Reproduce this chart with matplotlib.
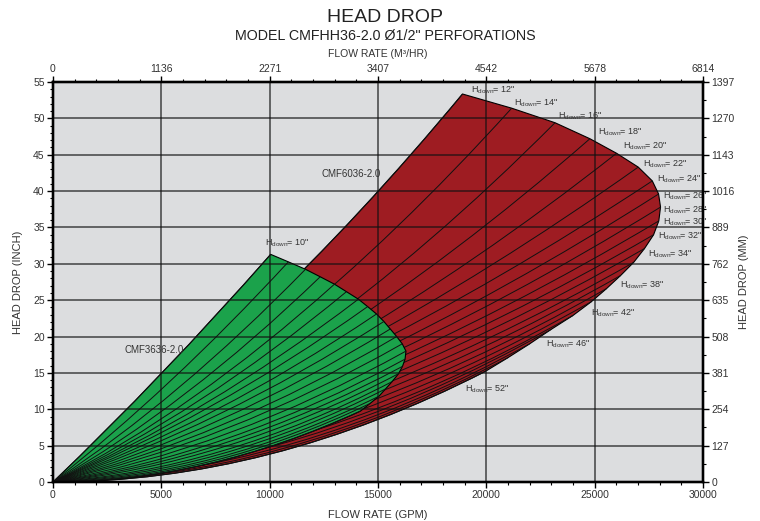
import matplotlib
matplotlib.use('Agg')
import matplotlib.pyplot as plt
from matplotlib.path import Path
from matplotlib.patches import PathPatch
from matplotlib.ticker import MultipleLocator

plt.rcParams['font.family'] = ['Liberation Sans Narrow', 'Liberation Sans', 'DejaVu Sans']
plt.rcParams['mathtext.default'] = 'regular'

# ---- data ----
# CMF6036-2.0 (red): one curve per downcomer height, from the origin to the max-flow edge
red_h = [12, 14, 16, 18, 20, 22, 24, 26, 28, 30, 32, 34, 36, 38, 40, 42, 44, 46, 48, 50, 52]
red_end_gpm = [18900, 21170, 23170, 24780, 26010, 27010, 27660, 27950, 28040, 27960, 27720,
               27300, 26800, 26200, 25550, 24850, 24000, 23000, 22000, 21000, 19950]
red_end_in = [53.35, 51.4, 49.4, 47.2, 45.2, 43.3, 41.4, 39.6, 37.8, 35.9, 34.0,
              32.1, 30.2, 28.4, 26.6, 24.8, 22.9, 21.0, 19.0, 17.1, 15.2]
# head drop at half of the end flow
red_mid_in = [23.03, 21.08, 19.69, 19.24, 18.64, 18.16, 17.42, 16.43, 15.46, 14.47, 13.47,
              12.37, 11.24, 10.15, 9.06, 8.05, 7.01, 6.09, 5.23, 4.49, 3.80]

# CMF3636-2.0 (green)
green_h = [10, 12, 14, 16, 18, 20, 22, 24, 26, 28, 30, 32, 34, 36, 38, 40, 42, 44, 46, 48, 50, 52]
green_end_gpm = [10046, 10863, 11653, 12332, 12991, 13543, 14094, 14522, 14931, 15272, 15566,
                 15862, 16120, 16290, 16250, 16130, 15950, 15650, 15348, 15045, 14634, 14190]
green_end_in = [31.3, 30.27, 29.25, 28.22, 27.2, 26.17, 25.14, 24.12, 23.1, 22.07, 21.04,
                20.0, 19.0, 18.0, 16.9, 15.9, 14.9, 13.8, 12.8, 11.8, 10.8, 9.75]
green_mid_in = [14.97, 13.92, 13.02, 12.28, 11.70, 11.25, 10.81, 10.37, 9.82, 9.27, 8.63,
                8.0, 7.41, 6.75, 6.08, 5.49, 4.92, 4.28, 3.78, 3.30, 2.86, 2.44]

red_labeled = [12, 14, 16, 18, 20, 22, 24, 26, 28, 30, 32, 34, 38, 42, 46, 52]
green_labeled = [10]

gpm_ticks = [0, 5000, 10000, 15000, 20000, 25000, 30000]
m3hr_labels = ['0', '1136', '2271', '3407', '4542', '5678', '6814']
inch_ticks = [0, 5, 10, 15, 20, 25, 30, 35, 40, 45, 50, 55]
mm_labels = ['0', '127', '254', '381', '508', '635', '762', '889', '1016', '1143', '1270', '1397']

RED = '#9e1c22'
GREEN = '#1ba24b'
BG = '#dcdddf'


def curve(xe, ye, ym):
    # quadratic curve from the origin through (xe/2, ym) to (xe, ye)
    return Path([(0, 0), (xe / 2, 2 * ym - ye / 2), (xe, ye)],
                [Path.MOVETO, Path.CURVE3, Path.CURVE3])


def region(xe, ye, ym):
    verts = [(0, 0), (xe[0] / 2, 2 * ym[0] - ye[0] / 2), (xe[0], ye[0])]
    codes = [Path.MOVETO, Path.CURVE3, Path.CURVE3]
    for x, y in zip(xe[1:], ye[1:]):
        verts.append((x, y))
        codes.append(Path.LINETO)
    verts += [(xe[-1] / 2, 2 * ym[-1] - ye[-1] / 2), (0, 0), (0, 0)]
    codes += [Path.CURVE3, Path.CURVE3, Path.CLOSEPOLY]
    return Path(verts, codes)


fig = plt.figure(figsize=(7.6, 5.21), dpi=100)
ax = fig.add_axes([53 / 760, 39 / 521, 650 / 760, 400 / 521])
ax.set_facecolor(BG)

ax.add_patch(PathPatch(region(red_end_gpm, red_end_in, red_mid_in), fc=RED, ec='k', lw=0.8, zorder=1))
for xe, ye, ym in zip(red_end_gpm, red_end_in, red_mid_in):
    ax.add_patch(PathPatch(curve(xe, ye, ym), fc='none', ec='#111111', lw=0.7, zorder=1.1))

ax.add_patch(PathPatch(region(green_end_gpm, green_end_in, green_mid_in), fc=GREEN, ec='k', lw=0.8, zorder=1.5))
for xe, ye, ym in zip(green_end_gpm, green_end_in, green_mid_in):
    ax.add_patch(PathPatch(curve(xe, ye, ym), fc='none', ec='#111111', lw=0.7, zorder=1.6))

# H_down labels (left x, centre y of the text)
label_pos = {12: (19278, 53.9), 14: (21277, 52.1), 16: (23308, 50.26), 18: (25154, 48.03),
             20: (26294, 46.13), 22: (27231, 43.73), 24: (27877, 41.66), 26: (28140, 39.33),
             28: (28140, 37.36), 30: (28140, 35.72), 32: (27937, 33.73), 34: (27475, 31.35),
             38: (26169, 27.02), 42: (24817, 23.24), 46: (22754, 18.88), 52: (19015, 12.79),
             10: (9785, 32.77)}
for h in red_labeled + green_labeled:
    x, y = label_pos[h]
    ax.text(x, y, 'H$_{down}$= %d"' % h, fontsize=6.5, color='#333333',
            ha='left', va='center', zorder=4)

ax.text(3277, 18.1, 'CMF3636-2.0', fontsize=7, color='#333333', ha='left', va='center', zorder=4)
ax.text(12400, 42.3, 'CMF6036-2.0', fontsize=7, color='#333333', ha='left', va='center', zorder=4)

ax.set_xlim(0, 30000)
ax.set_ylim(0, 55)
ax.set_xticks(gpm_ticks)
ax.set_yticks(inch_ticks)
ax.xaxis.set_minor_locator(MultipleLocator(1000))
ax.yaxis.set_minor_locator(MultipleLocator(1))
ax.grid(True, which='major', color='#111111', alpha=0.7, lw=1.2)
ax.set_axisbelow(False)
ax.set_xlabel('FLOW RATE (GPM)', fontsize=8, color='#333333', labelpad=7)
ax.set_ylabel('HEAD DROP (INCH)', fontsize=8, color='#333333', labelpad=7)

axt = ax.twiny()
axt.set_xlim(0, 30000)
axt.set_xticks(gpm_ticks)
axt.set_xticklabels(m3hr_labels)
axt.xaxis.set_minor_locator(MultipleLocator(1000))
axt.set_xlabel('FLOW RATE (M³/HR)', fontsize=7.5, color='#333333', labelpad=5)

axr = ax.twinx()
axr.set_ylim(0, 55)
axr.set_yticks(inch_ticks)
axr.set_yticklabels(mm_labels)
axr.yaxis.set_minor_locator(MultipleLocator(2.5))
axr.set_ylabel('HEAD DROP (MM)', fontsize=8, color='#333333', labelpad=3)

for a in (ax, axt, axr):
    a.tick_params(which='major', length=4, width=1, labelsize=7.5, labelcolor='#333333', pad=2)
    a.tick_params(which='minor', length=2, width=0.8)
    for s in a.spines.values():
        s.set_linewidth(1.6)

fig.text(0.507, 0.966, 'HEAD DROP', fontsize=14, ha='center', va='center', color='#222222')
fig.text(0.507, 0.931, 'MODEL CMFHH36-2.0 Ø1/2" PERFORATIONS', fontsize=10.3,
         ha='center', va='center', color='#222222')

fig.savefig('out.png', dpi=100)
